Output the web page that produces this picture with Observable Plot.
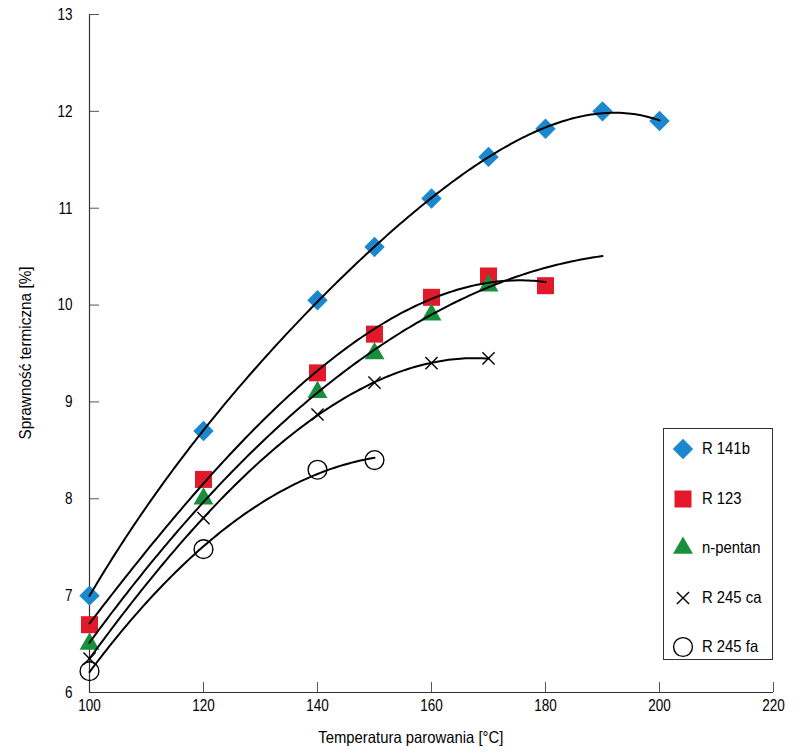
<!DOCTYPE html>
<html><head><meta charset="utf-8">
<script src="https://cdn.jsdelivr.net/npm/d3@7"></script>
<script src="https://cdn.jsdelivr.net/npm/@observablehq/plot@0.6"></script>
<style>
body{margin:0;background:#fff;}
#wrap{position:relative;width:800px;height:755px;font-family:"Liberation Sans",Arial,sans-serif;color:#000;}
.lbl{position:absolute;font-size:16.5px;white-space:nowrap;}
#xt{position:absolute;left:11px;top:728px;width:800px;text-align:center;font-size:16.5px;}
#xt span{display:inline-block;transform:scaleX(0.9);}
#yt{position:absolute;left:25px;top:353px;font-size:16.5px;white-space:nowrap;transform:translate(-50%,-50%) rotate(-90deg) scaleX(0.93);}
#legend{position:absolute;left:663px;top:428px;width:108px;height:230px;border:1px solid #333;background:#fff;}
.item{position:absolute;left:0;height:24px;width:108px;}
.item svg{position:absolute;left:7px;top:0;}
.item span{position:absolute;left:38px;top:2px;font-size:16.5px;white-space:nowrap;transform:scaleX(0.9);transform-origin:left center;}
</style></head><body><div id="wrap"></div>
<script>
// ---- data ----
const seriesNames = ["R 141b", "R 123", "n-pentan", "R 245 ca", "R 245 fa"];
const seriesColors = ["#1b87cf", "#e2182b", "#17903d", "#000000", "#000000"];
const seriesSymbols = ["diamond2", "square", "triangle", "times", "circle"];
const seriesHollow = [false, false, false, true, true];

const r141bX = [100, 120, 140, 150, 160, 170, 180, 190, 200];
const r141bY = [7.0, 8.7, 10.05, 10.6, 11.1, 11.53, 11.82, 12.0, 11.9];
const r123X = [100, 120, 140, 150, 160, 170, 180];
const r123Y = [6.7, 8.2, 9.3, 9.7, 10.08, 10.3, 10.2];
const pentanX = [100, 120, 140, 150, 160, 170];
const pentanY = [6.5, 8.0, 9.1, 9.5, 9.9, 10.2];
const r245caX = [100, 120, 140, 150, 160, 170];
const r245caY = [6.35, 7.8, 8.87, 9.2, 9.4, 9.45];
const r245faX = [100, 120, 140, 150];
const r245faY = [6.22, 7.48, 8.3, 8.4];

// trendline polynomial degree and drawn range
const trendDegree = [4, 3, 2, 3, 2];
const trendStart = [100, 100, 100, 100, 100];
const trendEnd = [200, 180, 190, 170, 150];

const xTicks = [100, 120, 140, 160, 180, 200, 220];
const yTicks = [6, 7, 8, 9, 10, 11, 12, 13];
const xTitle = "Temperatura parowania [°C]";
const yTitle = "Sprawność termiczna [%]";

const allX = [r141bX, r123X, pentanX, r245caX, r245faX];
const allY = [r141bY, r123Y, pentanY, r245caY, r245faY];

// ---- least squares polynomial fit (trendline) ----
function polyfit(xs, ys, deg) {
  const n = deg + 1, cx = 150, sx = 50;
  const A = Array.from({length: n}, () => Array(n + 1).fill(0));
  xs.forEach((x, i) => {
    const t = (x - cx) / sx;
    const p = []; for (let k = 0; k < n; k++) p.push(Math.pow(t, k));
    for (let r = 0; r < n; r++) { for (let c = 0; c < n; c++) A[r][c] += p[r] * p[c]; A[r][n] += p[r] * ys[i]; }
  });
  for (let i = 0; i < n; i++) {
    let m = i; for (let r = i + 1; r < n; r++) if (Math.abs(A[r][i]) > Math.abs(A[m][i])) m = r;
    [A[i], A[m]] = [A[m], A[i]];
    for (let r = 0; r < n; r++) if (r !== i) { const f = A[r][i] / A[i][i]; for (let c = i; c <= n; c++) A[r][c] -= f * A[i][c]; }
  }
  const coef = A.map((row, i) => row[n] / row[i]);
  return x => { const t = (x - cx) / sx; return coef.reduce((s, c, k) => s + c * Math.pow(t, k), 0); };
}

const points = [];
const curves = [];
seriesNames.forEach((name, s) => {
  allX[s].forEach((x, i) => points.push({series: name, x, y: allY[s][i]}));
  const f = polyfit(allX[s], allY[s], trendDegree[s]);
  for (let x = trendStart[s]; x <= trendEnd[s] + 1e-9; x += 0.5) curves.push({series: name, x, y: f(x)});
});

const sizes = [9.2, 9.6, 7.4, 5.6, 9.4];

const dotMarks = seriesNames.map((name, s) => Plot.dot(points.filter(d => d.series === name), {
  x: "x", y: "y", symbol: () => seriesSymbols[s], r: sizes[s],
  fill: seriesHollow[s] ? "none" : seriesColors[s],
  stroke: seriesHollow[s] ? seriesColors[s] : "none",
  strokeWidth: 1.4
}));

const chart = Plot.plot({
  width: 800, height: 755,
  marginLeft: 89, marginRight: 27, marginTop: 14, marginBottom: 63,
  style: {fontFamily: '"Liberation Sans",Arial,sans-serif', fontSize: "16.5px", color: "#000", background: "#fff"},
  x: {domain: [100, 220]},
  y: {domain: [6, 13]},
  marks: [
    Plot.axisX({ticks: xTicks, tickSize: -10, tickPadding: 17, label: null, tickFormat: d => String(d), stroke: "#555"}),
    Plot.axisY({ticks: yTicks, tickSize: -10, tickPadding: 27, label: null, tickFormat: d => String(d), stroke: "#555"}),
    Plot.ruleX([100], {stroke: "#333", strokeWidth: 1.2}),
    Plot.ruleY([6], {stroke: "#333", strokeWidth: 1.2}),
    ...dotMarks,
    Plot.line(curves, {x: "x", y: "y", z: "series", stroke: "#000", strokeWidth: 2, curve: "linear"})
  ]
});

// condense tick labels horizontally (narrow font look)
chart.querySelectorAll('g[aria-label$="tick label"] text').forEach(t => {
  const tr = t.getAttribute("transform") || "";
  t.setAttribute("transform", tr + " scale(0.82,1)");
});

const wrap = document.getElementById("wrap");
wrap.appendChild(chart);

// axis titles
const xt = document.createElement("div");
xt.id = "xt";
const xs = document.createElement("span"); xs.textContent = xTitle; xt.appendChild(xs);
wrap.appendChild(xt);
const yt = document.createElement("div");
yt.id = "yt"; yt.textContent = yTitle;
wrap.appendChild(yt);

// legend
const legend = document.createElement("div");
legend.id = "legend";
wrap.appendChild(legend);
const symMap = {diamond2: d3.symbolDiamond2, square: d3.symbolSquare, triangle: d3.symbolTriangle, times: d3.symbolTimes, circle: d3.symbolCircle};
seriesNames.forEach((name, s) => {
  const item = document.createElement("div");
  item.className = "item";
  item.style.top = (8 + s * 49.5) + "px";
  const svg = d3.create("svg").attr("width", 24).attr("height", 24);
  svg.append("path")
    .attr("transform", "translate(12,12)")
    .attr("d", d3.symbol().type(symMap[seriesSymbols[s]]).size(sizes[s] * sizes[s] * Math.PI)())
    .attr("fill", seriesHollow[s] ? "none" : seriesColors[s])
    .attr("stroke", seriesHollow[s] ? seriesColors[s] : "none")
    .attr("stroke-width", 1.4);
  item.appendChild(svg.node());
  const sp = document.createElement("span");
  sp.textContent = name;
  item.appendChild(sp);
  legend.appendChild(item);
});
</script></body></html>
